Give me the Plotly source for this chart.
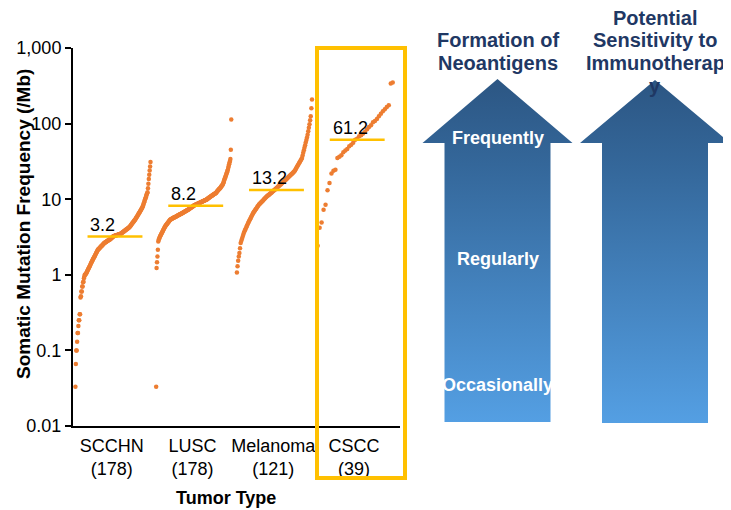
import numpy as np
import plotly.graph_objects as go

# Tumor types, sample sizes and median mutation frequency (/Mb)
categories = ['SCCHN', 'LUSC', 'Melanoma', 'CSCC']
counts = [178, 178, 121, 39]
medians = [3.2, 8.2, 13.2, 61.2]

# per-sample somatic mutation frequency (/Mb)
scchn = [
    0.033, 0.066, 0.1, 0.1, 0.13, 0.17, 0.17, 0.21, 0.25, 0.25, 0.3, 0.3,
    0.5, 0.52, 0.6, 0.6, 0.7, 0.7, 0.8, 0.81, 0.9, 0.95, 1.0, 1.0,
    1.02, 1.04, 1.06, 1.09, 1.12, 1.15, 1.18, 1.21, 1.25, 1.28, 1.31, 1.35, 1.39, 1.43,
    1.47, 1.51, 1.55, 1.59, 1.63, 1.67, 1.71, 1.75, 1.80, 1.84, 1.89, 1.94, 1.98, 2.03, 2.09, 2.14,
    2.17, 2.20, 2.23, 2.26, 2.29, 2.32, 2.36, 2.39, 2.42, 2.45, 2.49, 2.52, 2.56, 2.59, 2.63,
    2.65, 2.67, 2.70, 2.72, 2.74, 2.77, 2.79, 2.82, 2.84, 2.86, 2.89, 2.91, 2.94, 2.96, 2.99, 3.02,
    3.07, 3.10, 3.14, 3.18, 3.22,
    3.24, 3.25, 3.27, 3.28, 3.30, 3.31, 3.33, 3.34, 3.36, 3.37, 3.39, 3.41, 3.42, 3.44, 3.45, 3.47, 3.48, 3.50,
    3.53, 3.57, 3.60, 3.64, 3.67, 3.71, 3.74, 3.78, 3.82, 3.85, 3.89, 3.93, 3.97, 4.01, 4.05, 4.09, 4.13, 4.17, 4.21, 4.25,
    4.32, 4.40, 4.47, 4.55, 4.63, 4.71, 4.79, 4.87, 4.96, 5.04, 5.13, 5.22, 5.31, 5.40, 5.50,
    5.62, 5.75, 5.87, 6.00, 6.13, 6.27, 6.41, 6.55, 6.69, 6.84, 6.99, 7.14, 7.30, 7.46, 7.62, 7.80,
    8.1, 8.4, 8.8, 9.1, 9.5, 9.9, 10.2, 10.6, 11.1, 11.5, 12.0, 12.4,
    14, 16, 18.5, 21, 24, 27, 31,
]
lusc = [
    0.033, 1.23, 1.46, 1.75, 2.14, 2.76,
    2.9, 3.0, 3.1, 3.2,
    3.28, 3.37, 3.46, 3.55, 3.64, 3.73, 3.83, 3.93, 4.03, 4.14, 4.25, 4.36,
    4.43, 4.51, 4.59, 4.67, 4.75, 4.83, 4.91, 5.00, 5.08, 5.17, 5.26, 5.35,
    5.39, 5.43, 5.47, 5.51, 5.55, 5.59, 5.63, 5.67, 5.71, 5.75, 5.79, 5.83, 5.87, 5.91, 5.95, 6.00,
    6.04, 6.08, 6.12, 6.17, 6.21, 6.25, 6.30,
    6.35, 6.39, 6.44, 6.49, 6.53, 6.58, 6.63, 6.68, 6.73, 6.78, 6.83, 6.88, 6.93, 6.98, 7.03, 7.08,
    7.14, 7.19, 7.24, 7.30,
    7.37, 7.44, 7.51, 7.58, 7.65, 7.72, 7.79, 7.86, 7.93, 8.00, 8.08, 8.15,
    8.25,
    8.30, 8.35, 8.40, 8.45, 8.50, 8.56, 8.61, 8.66, 8.72, 8.77, 8.82, 8.88, 8.93, 8.99, 9.04,
    9.10, 9.15, 9.21, 9.27, 9.32, 9.38, 9.44, 9.50, 9.55, 9.61, 9.67, 9.73, 9.79, 9.85,
    9.94, 10.0, 10.1, 10.2, 10.3, 10.4, 10.5, 10.6, 10.7, 10.8, 10.9, 11.0, 11.1, 11.2, 11.3,
    11.4, 11.5, 11.6, 11.7, 11.8, 11.9, 12.0, 12.1,
    12.3, 12.5, 12.7, 12.9, 13.1, 13.3, 13.5, 13.7, 13.9, 14.1, 14.3, 14.6, 14.9, 15.1, 15.4, 15.6,
    16.2, 16.8, 17.5, 18.2, 18.9, 19.6, 20.3, 21.1, 21.9, 22.8, 23.7, 24.6,
    26, 27.5, 29, 30.5, 32, 34,
    45, 113,
]
melanoma = [
    1.07, 1.3, 1.53, 1.75, 1.94, 2.25, 2.63,
    2.8, 2.98, 3.17, 3.37, 3.57,
    3.73, 3.90, 4.07, 4.25, 4.44, 4.64, 4.84,
    5.03, 5.22, 5.42, 5.63, 5.85, 6.08, 6.31, 6.56,
    6.75, 6.94, 7.14, 7.34, 7.55, 7.76, 7.98, 8.21, 8.45,
    8.62, 8.79, 8.96, 9.14, 9.32, 9.50, 9.69, 9.88, 10.1, 10.3, 10.5, 10.7, 10.9,
    11.1, 11.3, 11.4, 11.6, 11.8, 12.0, 12.2, 12.4, 12.6, 12.8, 13.0, 13.2,
    13.4, 13.7, 13.9, 14.2, 14.4, 14.7, 14.9, 15.2, 15.5, 15.7, 16.0, 16.3, 16.6, 16.9, 17.2, 17.5, 17.8, 18.1,
    18.4, 18.8, 19.1, 19.5, 19.8, 20.2, 20.6, 20.9, 21.3, 21.7, 22.1, 22.5, 23.0, 23.4,
    24.2, 25.0, 25.9, 26.8, 27.7, 28.6, 29.6, 30.6, 31.6, 32.7, 33.8, 35.0,
    37.9, 41.0, 44.3, 47.9, 51.8, 56.1, 60.7, 65.6, 71,
    79, 88, 98, 111, 125,
    160, 208,
]
cscc = [
    2.42, 4.2, 4.93, 7.26, 8.45, 13.1, 16.4, 21.8, 23.8, 24.5,
    35, 36.3, 38, 41.7, 44, 46.2, 50, 52.7, 56, 61.2,
    63, 67.9, 70, 73.7, 78, 84, 90.4, 95, 104, 108,
    115, 125, 135, 146, 155, 166, 175, 339, 349,
]
series = [scchn, lusc, melanoma, cscc]

y_ticks = [0.01, 0.1, 1, 10, 100, 1000]
y_ticktext = ['0.01', '0.1', '1', '10', '100', '1,000']

ORANGE = '#ED7D31'
GOLD = '#FFC000'
NAVY = '#1F3864'

# the page body adds an 8px margin, so the figure is made 8px smaller
W, H, OFF = 731, 510, 8
FW, FH = W - OFF, H - OFF

fig = go.Figure()

for i, vals in enumerate(series):
    xs = np.linspace(i - 0.45, i + 0.48, len(vals))
    fig.add_trace(go.Scatter(x=xs, y=sorted(vals), mode='markers',
                             marker=dict(size=4.5, color=ORANGE, line=dict(width=0)),
                             showlegend=False, hoverinfo='skip'))

for i, m in enumerate(medians):
    fig.add_trace(go.Scatter(x=[i - 0.3, i + 0.38], y=[m, m], mode='lines',
                             line=dict(color=GOLD, width=2.5),
                             showlegend=False, hoverinfo='skip'))
    fig.add_annotation(x=i - 0.29, y=np.log10(m), text=f'{m}', showarrow=False,
                       xanchor='left', yanchor='bottom', yshift=0,
                       font=dict(size=18, color='black'))


# gradient arrows on an overlay axis measured in page pixels
def add_arrow(cx, tip, head_half, shaft_half, head_base, bottom):
    xs = [cx, cx + head_half, cx + shaft_half, cx + shaft_half,
          cx - shaft_half, cx - shaft_half, cx - head_half, cx]
    ys = [tip, head_base, head_base, bottom, bottom, head_base, head_base, tip]
    fig.add_trace(go.Scatter(x=xs, y=ys, mode='lines', fill='toself',
                             line=dict(width=0),
                             fillgradient=dict(type='vertical', start=tip, stop=bottom,
                                               colorscale=[[0, '#2C5683'], [0.25, '#34679A'],
                                                           [1, '#549FE3']]),
                             xaxis='x2', yaxis='y2', showlegend=False, hoverinfo='skip'))


add_arrow(497.5, 79, 75, 53, 143, 422)
add_arrow(655, 80, 75, 53, 143, 423)

# highlight box round CSCC
fig.add_shape(type='rect', xref='x2', yref='y2', x0=317, x1=405, y0=48, y1=478,
              line=dict(color=GOLD, width=4))

texts = [
    ('Formation of', 498, 40), ('Neoantigens', 498, 63),
    ('Potential', 655, 18), ('Sensitivity to', 655, 40),
    ('Immunotherap', 655, 63), ('y', 655, 86),
]
for t, x, y in texts:
    fig.add_annotation(x=x, y=y, xref='x2', yref='y2', text=f'<b>{t}</b>', showarrow=False,
                       font=dict(size=20, color=NAVY))

for t, y in [('Frequently', 138), ('Regularly', 259), ('Occasionally', 385)]:
    fig.add_annotation(x=497.5, y=y, xref='x2', yref='y2', text=f'<b>{t}</b>', showarrow=False,
                       font=dict(size=18, color='white'))

fig.add_annotation(x=23, y=224, xref='x2', yref='y2', text='<b>Somatic Mutation Frequency (/Mb)</b>',
                   showarrow=False, textangle=-90, font=dict(size=19, color='black'))
fig.add_annotation(x=226, y=498, xref='x2', yref='y2', text='<b>Tumor Type</b>',
                   showarrow=False, font=dict(size=18, color='black'))

fig.update_layout(
    template='none',
    width=FW, height=FH, autosize=False,
    margin=dict(l=0, r=0, t=0, b=0, pad=0, autoexpand=False),
    paper_bgcolor='white', plot_bgcolor='rgba(0,0,0,0)',
    font=dict(family='Arial, Liberation Sans, sans-serif', color='black'),
    xaxis=dict(domain=[(73 - OFF) / FW, (400 - OFF) / FW], range=[-0.48, 3.57], automargin=False,
               tickvals=list(range(len(categories))),
               ticktext=[f'{c}<br>({n})' for c, n in zip(categories, counts)],
               tickfont=dict(size=18), ticks='', ticklabelstandoff=2, showline=True, linewidth=2,
               linecolor='black', showgrid=False, zeroline=False),
    yaxis=dict(domain=[(H - 426) / FH, (H - 48) / FH], type='log', range=[-2, 3], automargin=False,
               tickvals=y_ticks, ticktext=y_ticktext, tickfont=dict(size=18),
               ticks='outside', ticklen=6, tickwidth=2, tickcolor='black',
               showline=True, linewidth=2, linecolor='black', showgrid=False, zeroline=False),
    xaxis2=dict(domain=[0, 1], range=[OFF, W], visible=False, anchor='y2', automargin=False),
    yaxis2=dict(domain=[0, 1], range=[H, OFF], visible=False, anchor='x2', automargin=False),
)

fig.write_html('out.html')
